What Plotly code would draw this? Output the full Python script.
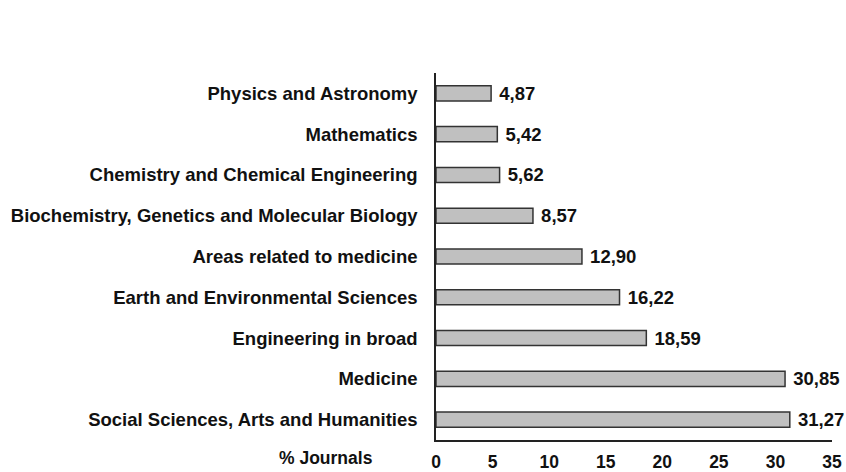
import plotly.graph_objects as go

# areas, listed bottom to top as plotly draws them
areas = ['Social Sciences, Arts and Humanities', 'Medicine', 'Engineering in broad',
         'Earth and Environmental Sciences', 'Areas related to medicine',
         'Biochemistry, Genetics and Molecular Biology',
         'Chemistry and Chemical Engineering', 'Mathematics', 'Physics and Astronomy']
pct = [31.27, 30.85, 18.59, 16.22, 12.90, 8.57, 5.62, 5.42, 4.87]
ticks = [0, 5, 10, 15, 20, 25, 30, 35]

labels = [('%.2f' % v).replace('.', ',') for v in pct]
font = dict(family='Liberation Sans, Arial, sans-serif', size=18.5, color='#111111')
tfont = dict(family='Liberation Sans, Arial, sans-serif', size=17.5, color='#111111')

fig = go.Figure()
fig.add_trace(go.Bar(
    x=pct, y=areas, orientation='h', width=0.37,
    marker=dict(color='#c0c0c0', line=dict(color='#333333', width=1.5)),
    text=labels, textposition='outside', cliponaxis=False, constraintext='none',
    textfont=font,
    texttemplate=' <b>%{text}</b>',
))

fig.update_layout(
    width=846, height=472,
    margin=dict(l=435.5, r=14, t=72.6, b=31.6),
    plot_bgcolor='white', paper_bgcolor='white',
    showlegend=False,
    font=font,
)
fig.update_xaxes(range=[0, 35], tickvals=ticks, ticktext=['<b>%d</b>' % t for t in ticks],
                 showgrid=False, zeroline=False, showline=True, linecolor='#222222', linewidth=1.5,
                 ticks='outside', ticklen=5, tickcolor='white', tickfont=tfont, automargin=False)
fig.update_yaxes(range=[-0.5, 8.5], tickvals=areas, ticktext=['<b>%s</b>' % a for a in areas],
                 showgrid=False, zeroline=False, showline=True, linecolor='#222222', linewidth=1.5,
                 ticks='outside', ticklen=13, tickcolor='white', tickfont=font, automargin=False)

fig.add_annotation(text='<b>% Journals</b>', xref='paper', yref='paper',
                   x=-0.279, y=-0.05, xanchor='center', yanchor='middle',
                   showarrow=False, font=tfont)

# page body has a default 8px margin, drop it so the figure fills the window
fig.write_html('out.html', config={'displayModeBar': False},
               post_script="document.body.style.margin='0';")
